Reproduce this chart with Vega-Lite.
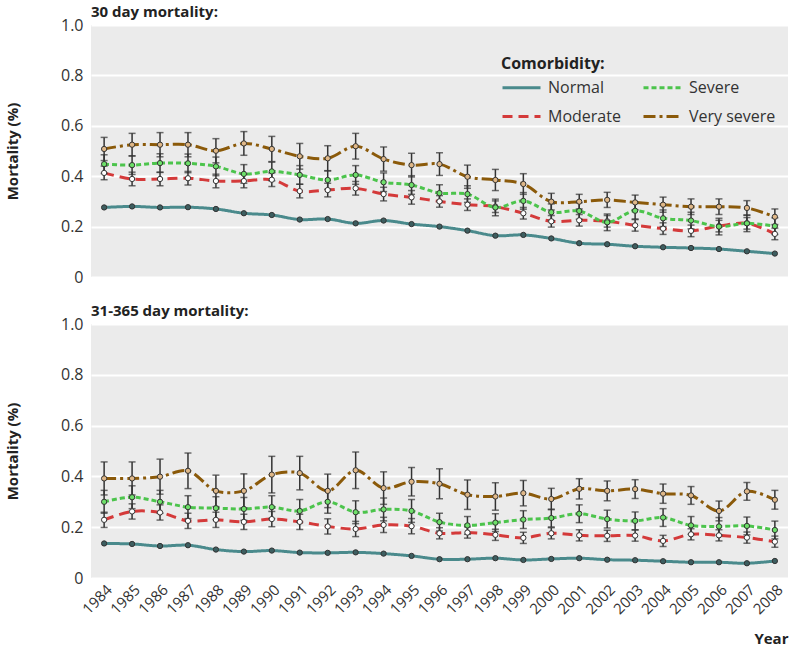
{
"$schema":"https://vega.github.io/schema/vega-lite/v6.json",
"padding":5,
"spacing":19,
"config":{"font":"Open Sans","view":{"fill":"#ebebeb","stroke":null},
"axis":{"labelColor":"#333","titleColor":"#222"},
"legend":{"orient":"none","legendX":410,"legendY":31,"columns":2,"symbolType":"stroke","symbolStrokeWidth":3,"symbolSize":1444,"labelFontSize":16,"titleFontSize":16,"titleFontWeight":"bold","titleColor":"#222","labelColor":"#333","columnPadding":16,"rowPadding":-18,"titlePadding":-5,"labelOffset":6}},
"data":{"values":[
{"p":"a","s":"Normal","x":1984,"v":0.276},{"p":"a","s":"Normal","x":1985,"v":0.280},{"p":"a","s":"Normal","x":1986,"v":0.276},{"p":"a","s":"Normal","x":1987,"v":0.277},{"p":"a","s":"Normal","x":1988,"v":0.270},{"p":"a","s":"Normal","x":1989,"v":0.253},{"p":"a","s":"Normal","x":1990,"v":0.246},{"p":"a","s":"Normal","x":1991,"v":0.228},{"p":"a","s":"Normal","x":1992,"v":0.230},{"p":"a","s":"Normal","x":1993,"v":0.213},{"p":"a","s":"Normal","x":1994,"v":0.224},{"p":"a","s":"Normal","x":1995,"v":0.210},{"p":"a","s":"Normal","x":1996,"v":0.200},{"p":"a","s":"Normal","x":1997,"v":0.184},{"p":"a","s":"Normal","x":1998,"v":0.164},{"p":"a","s":"Normal","x":1999,"v":0.167},{"p":"a","s":"Normal","x":2000,"v":0.153},{"p":"a","s":"Normal","x":2001,"v":0.134},{"p":"a","s":"Normal","x":2002,"v":0.130},{"p":"a","s":"Normal","x":2003,"v":0.122},{"p":"a","s":"Normal","x":2004,"v":0.118},{"p":"a","s":"Normal","x":2005,"v":0.115},{"p":"a","s":"Normal","x":2006,"v":0.111},{"p":"a","s":"Normal","x":2007,"v":0.102},{"p":"a","s":"Normal","x":2008,"v":0.093},
{"p":"a","s":"Moderate","x":1984,"v":0.413,"lo":0.386,"hi":0.440},{"p":"a","s":"Moderate","x":1985,"v":0.389,"lo":0.362,"hi":0.416},{"p":"a","s":"Moderate","x":1986,"v":0.389,"lo":0.362,"hi":0.416},{"p":"a","s":"Moderate","x":1987,"v":0.392,"lo":0.365,"hi":0.419},{"p":"a","s":"Moderate","x":1988,"v":0.381,"lo":0.354,"hi":0.408},{"p":"a","s":"Moderate","x":1989,"v":0.381,"lo":0.354,"hi":0.408},{"p":"a","s":"Moderate","x":1990,"v":0.386,"lo":0.359,"hi":0.413},{"p":"a","s":"Moderate","x":1991,"v":0.341,"lo":0.314,"hi":0.368},{"p":"a","s":"Moderate","x":1992,"v":0.345,"lo":0.318,"hi":0.372},{"p":"a","s":"Moderate","x":1993,"v":0.352,"lo":0.325,"hi":0.379},{"p":"a","s":"Moderate","x":1994,"v":0.329,"lo":0.302,"hi":0.356},{"p":"a","s":"Moderate","x":1995,"v":0.316,"lo":0.289,"hi":0.343},{"p":"a","s":"Moderate","x":1996,"v":0.300,"lo":0.277,"hi":0.323},{"p":"a","s":"Moderate","x":1997,"v":0.287,"lo":0.264,"hi":0.310},{"p":"a","s":"Moderate","x":1998,"v":0.279,"lo":0.256,"hi":0.302},{"p":"a","s":"Moderate","x":1999,"v":0.253,"lo":0.230,"hi":0.276},{"p":"a","s":"Moderate","x":2000,"v":0.221,"lo":0.198,"hi":0.244},{"p":"a","s":"Moderate","x":2001,"v":0.225,"lo":0.202,"hi":0.248},{"p":"a","s":"Moderate","x":2002,"v":0.221,"lo":0.198,"hi":0.244},{"p":"a","s":"Moderate","x":2003,"v":0.205,"lo":0.182,"hi":0.228},{"p":"a","s":"Moderate","x":2004,"v":0.192,"lo":0.169,"hi":0.215},{"p":"a","s":"Moderate","x":2005,"v":0.183,"lo":0.160,"hi":0.206},{"p":"a","s":"Moderate","x":2006,"v":0.202,"lo":0.179,"hi":0.225},{"p":"a","s":"Moderate","x":2007,"v":0.213,"lo":0.190,"hi":0.236},{"p":"a","s":"Moderate","x":2008,"v":0.171,"lo":0.148,"hi":0.194},
{"p":"a","s":"Severe","x":1984,"v":0.448,"lo":0.411,"hi":0.485},{"p":"a","s":"Severe","x":1985,"v":0.444,"lo":0.407,"hi":0.481},{"p":"a","s":"Severe","x":1986,"v":0.452,"lo":0.415,"hi":0.489},{"p":"a","s":"Severe","x":1987,"v":0.451,"lo":0.414,"hi":0.488},{"p":"a","s":"Severe","x":1988,"v":0.439,"lo":0.402,"hi":0.476},{"p":"a","s":"Severe","x":1989,"v":0.409,"lo":0.372,"hi":0.446},{"p":"a","s":"Severe","x":1990,"v":0.419,"lo":0.382,"hi":0.456},{"p":"a","s":"Severe","x":1991,"v":0.405,"lo":0.368,"hi":0.442},{"p":"a","s":"Severe","x":1992,"v":0.385,"lo":0.348,"hi":0.422},{"p":"a","s":"Severe","x":1993,"v":0.405,"lo":0.368,"hi":0.442},{"p":"a","s":"Severe","x":1994,"v":0.376,"lo":0.339,"hi":0.413},{"p":"a","s":"Severe","x":1995,"v":0.365,"lo":0.328,"hi":0.402},{"p":"a","s":"Severe","x":1996,"v":0.333,"lo":0.300,"hi":0.366},{"p":"a","s":"Severe","x":1997,"v":0.329,"lo":0.296,"hi":0.362},{"p":"a","s":"Severe","x":1998,"v":0.276,"lo":0.243,"hi":0.309},{"p":"a","s":"Severe","x":1999,"v":0.302,"lo":0.269,"hi":0.335},{"p":"a","s":"Severe","x":2000,"v":0.257,"lo":0.224,"hi":0.290},{"p":"a","s":"Severe","x":2001,"v":0.262,"lo":0.229,"hi":0.295},{"p":"a","s":"Severe","x":2002,"v":0.217,"lo":0.184,"hi":0.250},{"p":"a","s":"Severe","x":2003,"v":0.263,"lo":0.230,"hi":0.296},{"p":"a","s":"Severe","x":2004,"v":0.233,"lo":0.200,"hi":0.266},{"p":"a","s":"Severe","x":2005,"v":0.224,"lo":0.191,"hi":0.257},{"p":"a","s":"Severe","x":2006,"v":0.200,"lo":0.167,"hi":0.233},{"p":"a","s":"Severe","x":2007,"v":0.213,"lo":0.180,"hi":0.246},{"p":"a","s":"Severe","x":2008,"v":0.202,"lo":0.169,"hi":0.235},
{"p":"a","s":"Very severe","x":1984,"v":0.508,"lo":0.462,"hi":0.554},{"p":"a","s":"Very severe","x":1985,"v":0.525,"lo":0.480,"hi":0.570},{"p":"a","s":"Very severe","x":1986,"v":0.525,"lo":0.477,"hi":0.573},{"p":"a","s":"Very severe","x":1987,"v":0.525,"lo":0.477,"hi":0.573},{"p":"a","s":"Very severe","x":1988,"v":0.501,"lo":0.453,"hi":0.549},{"p":"a","s":"Very severe","x":1989,"v":0.530,"lo":0.483,"hi":0.577},{"p":"a","s":"Very severe","x":1990,"v":0.508,"lo":0.458,"hi":0.558},{"p":"a","s":"Very severe","x":1991,"v":0.479,"lo":0.428,"hi":0.530},{"p":"a","s":"Very severe","x":1992,"v":0.471,"lo":0.421,"hi":0.521},{"p":"a","s":"Very severe","x":1993,"v":0.519,"lo":0.468,"hi":0.570},{"p":"a","s":"Very severe","x":1994,"v":0.468,"lo":0.420,"hi":0.516},{"p":"a","s":"Very severe","x":1995,"v":0.444,"lo":0.397,"hi":0.491},{"p":"a","s":"Very severe","x":1996,"v":0.448,"lo":0.403,"hi":0.493},{"p":"a","s":"Very severe","x":1997,"v":0.398,"lo":0.352,"hi":0.444},{"p":"a","s":"Very severe","x":1998,"v":0.385,"lo":0.343,"hi":0.427},{"p":"a","s":"Very severe","x":1999,"v":0.369,"lo":0.328,"hi":0.410},{"p":"a","s":"Very severe","x":2000,"v":0.299,"lo":0.266,"hi":0.332},{"p":"a","s":"Very severe","x":2001,"v":0.299,"lo":0.270,"hi":0.328},{"p":"a","s":"Very severe","x":2002,"v":0.306,"lo":0.276,"hi":0.336},{"p":"a","s":"Very severe","x":2003,"v":0.296,"lo":0.267,"hi":0.325},{"p":"a","s":"Very severe","x":2004,"v":0.287,"lo":0.257,"hi":0.317},{"p":"a","s":"Very severe","x":2005,"v":0.279,"lo":0.248,"hi":0.310},{"p":"a","s":"Very severe","x":2006,"v":0.279,"lo":0.248,"hi":0.310},{"p":"a","s":"Very severe","x":2007,"v":0.274,"lo":0.245,"hi":0.303},{"p":"a","s":"Very severe","x":2008,"v":0.239,"lo":0.208,"hi":0.270},
{"p":"b","s":"Normal","x":1984,"v":0.136},{"p":"b","s":"Normal","x":1985,"v":0.134},{"p":"b","s":"Normal","x":1986,"v":0.126},{"p":"b","s":"Normal","x":1987,"v":0.129},{"p":"b","s":"Normal","x":1988,"v":0.112},{"p":"b","s":"Normal","x":1989,"v":0.104},{"p":"b","s":"Normal","x":1990,"v":0.108},{"p":"b","s":"Normal","x":1991,"v":0.100},{"p":"b","s":"Normal","x":1992,"v":0.099},{"p":"b","s":"Normal","x":1993,"v":0.101},{"p":"b","s":"Normal","x":1994,"v":0.096},{"p":"b","s":"Normal","x":1995,"v":0.087},{"p":"b","s":"Normal","x":1996,"v":0.074},{"p":"b","s":"Normal","x":1997,"v":0.074},{"p":"b","s":"Normal","x":1998,"v":0.078},{"p":"b","s":"Normal","x":1999,"v":0.071},{"p":"b","s":"Normal","x":2000,"v":0.075},{"p":"b","s":"Normal","x":2001,"v":0.078},{"p":"b","s":"Normal","x":2002,"v":0.072},{"p":"b","s":"Normal","x":2003,"v":0.070},{"p":"b","s":"Normal","x":2004,"v":0.066},{"p":"b","s":"Normal","x":2005,"v":0.062},{"p":"b","s":"Normal","x":2006,"v":0.062},{"p":"b","s":"Normal","x":2007,"v":0.058},{"p":"b","s":"Normal","x":2008,"v":0.067},
{"p":"b","s":"Moderate","x":1984,"v":0.229,"lo":0.199,"hi":0.259},{"p":"b","s":"Moderate","x":1985,"v":0.262,"lo":0.232,"hi":0.292},{"p":"b","s":"Moderate","x":1986,"v":0.258,"lo":0.228,"hi":0.288},{"p":"b","s":"Moderate","x":1987,"v":0.225,"lo":0.195,"hi":0.255},{"p":"b","s":"Moderate","x":1988,"v":0.229,"lo":0.199,"hi":0.259},{"p":"b","s":"Moderate","x":1989,"v":0.221,"lo":0.191,"hi":0.251},{"p":"b","s":"Moderate","x":1990,"v":0.232,"lo":0.202,"hi":0.262},{"p":"b","s":"Moderate","x":1991,"v":0.221,"lo":0.191,"hi":0.251},{"p":"b","s":"Moderate","x":1992,"v":0.203,"lo":0.173,"hi":0.233},{"p":"b","s":"Moderate","x":1993,"v":0.193,"lo":0.163,"hi":0.223},{"p":"b","s":"Moderate","x":1994,"v":0.209,"lo":0.179,"hi":0.239},{"p":"b","s":"Moderate","x":1995,"v":0.204,"lo":0.174,"hi":0.234},{"p":"b","s":"Moderate","x":1996,"v":0.176,"lo":0.154,"hi":0.198},{"p":"b","s":"Moderate","x":1997,"v":0.179,"lo":0.157,"hi":0.201},{"p":"b","s":"Moderate","x":1998,"v":0.170,"lo":0.148,"hi":0.192},{"p":"b","s":"Moderate","x":1999,"v":0.158,"lo":0.136,"hi":0.180},{"p":"b","s":"Moderate","x":2000,"v":0.176,"lo":0.154,"hi":0.198},{"p":"b","s":"Moderate","x":2001,"v":0.168,"lo":0.146,"hi":0.190},{"p":"b","s":"Moderate","x":2002,"v":0.166,"lo":0.144,"hi":0.188},{"p":"b","s":"Moderate","x":2003,"v":0.167,"lo":0.145,"hi":0.189},{"p":"b","s":"Moderate","x":2004,"v":0.146,"lo":0.124,"hi":0.168},{"p":"b","s":"Moderate","x":2005,"v":0.172,"lo":0.150,"hi":0.194},{"p":"b","s":"Moderate","x":2006,"v":0.168,"lo":0.146,"hi":0.190},{"p":"b","s":"Moderate","x":2007,"v":0.159,"lo":0.137,"hi":0.181},{"p":"b","s":"Moderate","x":2008,"v":0.143,"lo":0.121,"hi":0.165},
{"p":"b","s":"Severe","x":1984,"v":0.300,"lo":0.255,"hi":0.345},{"p":"b","s":"Severe","x":1985,"v":0.318,"lo":0.273,"hi":0.363},{"p":"b","s":"Severe","x":1986,"v":0.300,"lo":0.255,"hi":0.345},{"p":"b","s":"Severe","x":1987,"v":0.279,"lo":0.234,"hi":0.324},{"p":"b","s":"Severe","x":1988,"v":0.275,"lo":0.230,"hi":0.320},{"p":"b","s":"Severe","x":1989,"v":0.272,"lo":0.227,"hi":0.317},{"p":"b","s":"Severe","x":1990,"v":0.279,"lo":0.234,"hi":0.324},{"p":"b","s":"Severe","x":1991,"v":0.264,"lo":0.219,"hi":0.309},{"p":"b","s":"Severe","x":1992,"v":0.300,"lo":0.255,"hi":0.345},{"p":"b","s":"Severe","x":1993,"v":0.259,"lo":0.214,"hi":0.304},{"p":"b","s":"Severe","x":1994,"v":0.270,"lo":0.225,"hi":0.315},{"p":"b","s":"Severe","x":1995,"v":0.264,"lo":0.219,"hi":0.309},{"p":"b","s":"Severe","x":1996,"v":0.220,"lo":0.185,"hi":0.255},{"p":"b","s":"Severe","x":1997,"v":0.207,"lo":0.172,"hi":0.242},{"p":"b","s":"Severe","x":1998,"v":0.218,"lo":0.183,"hi":0.253},{"p":"b","s":"Severe","x":1999,"v":0.230,"lo":0.195,"hi":0.265},{"p":"b","s":"Severe","x":2000,"v":0.236,"lo":0.201,"hi":0.271},{"p":"b","s":"Severe","x":2001,"v":0.253,"lo":0.218,"hi":0.288},{"p":"b","s":"Severe","x":2002,"v":0.232,"lo":0.197,"hi":0.267},{"p":"b","s":"Severe","x":2003,"v":0.225,"lo":0.190,"hi":0.260},{"p":"b","s":"Severe","x":2004,"v":0.238,"lo":0.203,"hi":0.273},{"p":"b","s":"Severe","x":2005,"v":0.207,"lo":0.172,"hi":0.242},{"p":"b","s":"Severe","x":2006,"v":0.203,"lo":0.168,"hi":0.238},{"p":"b","s":"Severe","x":2007,"v":0.205,"lo":0.170,"hi":0.240},{"p":"b","s":"Severe","x":2008,"v":0.189,"lo":0.154,"hi":0.224},
{"p":"b","s":"Very severe","x":1984,"v":0.392,"lo":0.327,"hi":0.457},{"p":"b","s":"Very severe","x":1985,"v":0.392,"lo":0.327,"hi":0.457},{"p":"b","s":"Very severe","x":1986,"v":0.399,"lo":0.330,"hi":0.468},{"p":"b","s":"Very severe","x":1987,"v":0.422,"lo":0.352,"hi":0.492},{"p":"b","s":"Very severe","x":1988,"v":0.343,"lo":0.281,"hi":0.405},{"p":"b","s":"Very severe","x":1989,"v":0.343,"lo":0.276,"hi":0.410},{"p":"b","s":"Very severe","x":1990,"v":0.407,"lo":0.335,"hi":0.479},{"p":"b","s":"Very severe","x":1991,"v":0.413,"lo":0.347,"hi":0.479},{"p":"b","s":"Very severe","x":1992,"v":0.343,"lo":0.277,"hi":0.409},{"p":"b","s":"Very severe","x":1993,"v":0.424,"lo":0.352,"hi":0.496},{"p":"b","s":"Very severe","x":1994,"v":0.354,"lo":0.290,"hi":0.418},{"p":"b","s":"Very severe","x":1995,"v":0.379,"lo":0.323,"hi":0.435},{"p":"b","s":"Very severe","x":1996,"v":0.371,"lo":0.312,"hi":0.430},{"p":"b","s":"Very severe","x":1997,"v":0.328,"lo":0.270,"hi":0.386},{"p":"b","s":"Very severe","x":1998,"v":0.321,"lo":0.267,"hi":0.375},{"p":"b","s":"Very severe","x":1999,"v":0.334,"lo":0.284,"hi":0.384},{"p":"b","s":"Very severe","x":2000,"v":0.311,"lo":0.269,"hi":0.353},{"p":"b","s":"Very severe","x":2001,"v":0.351,"lo":0.311,"hi":0.391},{"p":"b","s":"Very severe","x":2002,"v":0.343,"lo":0.304,"hi":0.382},{"p":"b","s":"Very severe","x":2003,"v":0.350,"lo":0.313,"hi":0.387},{"p":"b","s":"Very severe","x":2004,"v":0.332,"lo":0.294,"hi":0.370},{"p":"b","s":"Very severe","x":2005,"v":0.325,"lo":0.290,"hi":0.360},{"p":"b","s":"Very severe","x":2006,"v":0.264,"lo":0.225,"hi":0.303},{"p":"b","s":"Very severe","x":2007,"v":0.341,"lo":0.306,"hi":0.376},{"p":"b","s":"Very severe","x":2008,"v":0.308,"lo":0.271,"hi":0.345}
]},
"vconcat":[
{"width":697,"height":252,
"title":{"text":"30 day mortality:","anchor":"start","frame":"group","fontSize":15,"fontWeight":"bold","color":"#222","offset":-3},
"transform":[{"filter":"datum.p == 'a'"}],
"encoding":{"x":{"field":"x","type":"quantitative","scale":{"domain":[1983.53,2008.47],"nice":false,"zero":false},"axis":null}},
"layer":[
{"mark":{"type":"line","interpolate":"catmull-rom","strokeWidth":3},
"encoding":{
"y":{"field":"v","type":"quantitative","title":"Mortality (%)","scale":{"domain":[0,1],"nice":false},"axis":{"title":"Mortality (%)","titleFontSize":15,"titleFontWeight":"bold","titlePadding":40,"labelFontSize":16,"labelPadding":8,"values":[0,0.2,0.4,0.6,0.8,1],"labelExpr":"datum.value == 0 ? '0' : format(datum.value, '.1f')","domain":false,"ticks":false,"gridColor":"#ffffff","gridWidth":2,"gridOpacity":1}},
"color":{"field":"s","type":"nominal","scale":{"domain":["Normal","Moderate","Severe","Very severe"],"range":["#4a8a8c","#d43a3a","#4cc44c","#8b5a0a"]},"legend":{"title":"Comorbidity:"}},
"strokeDash":{"field":"s","type":"nominal","scale":{"domain":["Normal","Moderate","Severe","Very severe"],"range":[[1,0],[10,6],[5,3],[12,4,3,4]]},"legend":{"title":"Comorbidity:"}}}},
{"transform":[{"filter":"isValid(datum.lo)"}],
"mark":{"type":"errorbar","ticks":{"size":7},"color":"#333","thickness":1.5},
"encoding":{"y":{"field":"lo","type":"quantitative","title":"Mortality (%)"},"y2":{"field":"hi"}}},
{"mark":{"type":"point","filled":true,"size":28,"stroke":"#333","strokeWidth":1,"opacity":1},
"encoding":{"y":{"field":"v","type":"quantitative","title":"Mortality (%)"},
"fill":{"field":"s","type":"nominal","scale":{"domain":["Normal","Moderate","Severe","Very severe"],"range":["#3d5e60","#ffffff","#6ee06a","#e0b888"]},"legend":null}}}
]},
{"width":697,"height":254,
"title":{"text":"31-365 day mortality:","anchor":"start","frame":"group","fontSize":15,"fontWeight":"bold","color":"#222","offset":-3},
"transform":[{"filter":"datum.p == 'b'"}],
"encoding":{"x":{"field":"x","type":"quantitative","title":"Year","scale":{"domain":[1983.53,2008.47],"nice":false,"zero":false},"axis":{"title":"Year","titleFontSize":15,"titleFontWeight":"bold","titleAnchor":"end","titlePadding":15,"labelAngle":-45,"labelFontSize":15,"labelPadding":4,"labelOverlap":false,"labelBound":false,"tickCount":25,"values":[1984,1985,1986,1987,1988,1989,1990,1991,1992,1993,1994,1995,1996,1997,1998,1999,2000,2001,2002,2003,2004,2005,2006,2007,2008],"format":"d","domain":false,"ticks":false,"grid":false}}},
"layer":[
{"mark":{"type":"line","interpolate":"catmull-rom","strokeWidth":3},
"encoding":{
"y":{"field":"v","type":"quantitative","title":"Mortality (%)","scale":{"domain":[0,1],"nice":false},"axis":{"title":"Mortality (%)","titleFontSize":15,"titleFontWeight":"bold","titlePadding":40,"labelFontSize":16,"labelPadding":8,"values":[0,0.2,0.4,0.6,0.8,1],"labelExpr":"datum.value == 0 ? '0' : format(datum.value, '.1f')","domain":false,"ticks":false,"gridColor":"#ffffff","gridWidth":2,"gridOpacity":1}},
"color":{"field":"s","type":"nominal","scale":{"domain":["Normal","Moderate","Severe","Very severe"],"range":["#4a8a8c","#d43a3a","#4cc44c","#8b5a0a"]},"legend":{"title":"Comorbidity:"}},
"strokeDash":{"field":"s","type":"nominal","scale":{"domain":["Normal","Moderate","Severe","Very severe"],"range":[[1,0],[10,6],[5,3],[12,4,3,4]]},"legend":{"title":"Comorbidity:"}}}},
{"transform":[{"filter":"isValid(datum.lo)"}],
"mark":{"type":"errorbar","ticks":{"size":7},"color":"#333","thickness":1.5},
"encoding":{"y":{"field":"lo","type":"quantitative","title":"Mortality (%)"},"y2":{"field":"hi"}}},
{"mark":{"type":"point","filled":true,"size":28,"stroke":"#333","strokeWidth":1,"opacity":1},
"encoding":{"y":{"field":"v","type":"quantitative","title":"Mortality (%)"},
"fill":{"field":"s","type":"nominal","scale":{"domain":["Normal","Moderate","Severe","Very severe"],"range":["#3d5e60","#ffffff","#6ee06a","#e0b888"]},"legend":null}}}
]}
]
}
